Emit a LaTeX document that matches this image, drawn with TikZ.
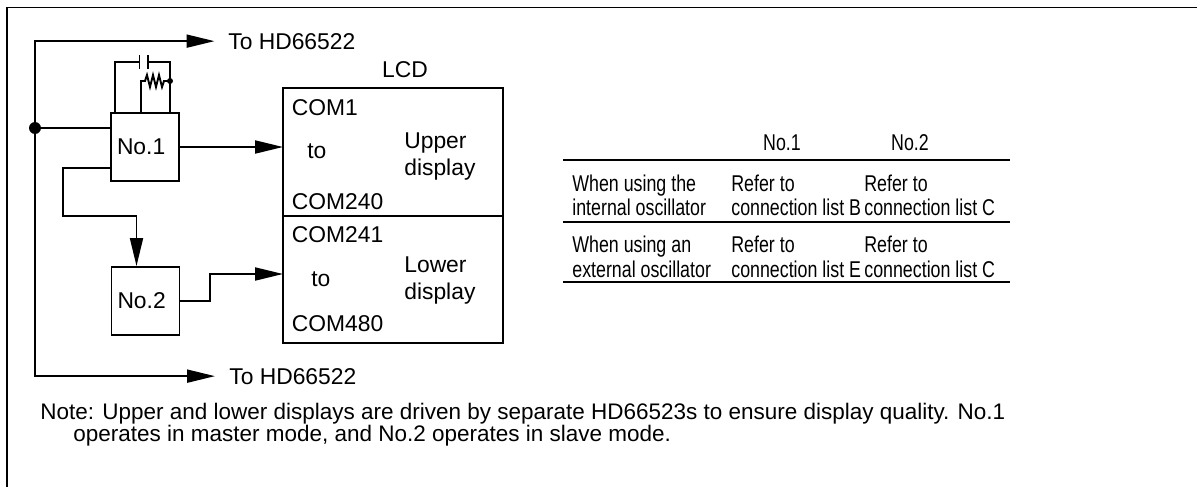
\documentclass[tikz,border=0pt]{standalone}
\usepackage{fontspec}
\setmainfont{Liberation Sans}
\newfontfamily\tabfont[FakeStretch=0.78]{Liberation Sans}
\usetikzlibrary{arrows.meta,positioning}

\tikzset{
  wire/.style={line width=1.1pt},
  sig/.style={wire,-{Triangle[length=0.56cm,width=0.26cm]}},
  chip/.style={draw,wire,minimum width=1.36cm,minimum height=1.36cm,inner sep=0pt,text width=1.12cm,align=left},
  lcdhalf/.style={draw,wire,minimum width=4.4cm,minimum height=2.56cm,inner sep=0pt,outer sep=0pt},
  lbl/.style={anchor=base west,inner sep=0pt},
  tab/.style={anchor=base west,inner sep=0pt,font=\fontsize{13pt}{15pt}\tabfont},
}

\begin{document}
\begin{tikzpicture}[x=0.02cm,y=-0.02cm,font=\fontsize{13pt}{15pt}\selectfont]
 \useasboundingbox (0,0) rectangle (1197,487);
 % frame
 \draw[wire] (7,487) -- (7,7.5) -- (1197,7.5);

 % drivers and LCD
 \node[chip] (no1) at (145,147) {No.1};
 \node[chip] (no2) at (145.5,301) {No.2};
 \node[lcdhalf] (upper) at (393,152) {};
 \node[lcdhalf,minimum height=2.54cm,below=0cm of upper] (lower) {};
 \node[anchor=base,inner sep=0pt] (lcdname) at (405,77) {LCD};
 \node[lbl] (com1) at (291.5,115.5) {COM1};
 \node[lbl] (to1) at (307,158) {to};
 \node[lbl] (com240) at (291.5,209) {COM240};
 \node[lbl] (up1) at (404,148) {Upper};
 \node[lbl] (up2) at (404,175) {display};
 \node[lbl] (com241) at (291.5,242.5) {COM241};
 \node[lbl] (to2) at (311,286) {to};
 \node[lbl] (com480) at (291.5,331) {COM480};
 \node[lbl] (lo1) at (404,272) {Lower};
 \node[lbl] (lo2) at (404,299) {display};

 % bus to HD66522
 \coordinate (jn) at (35,128);
 \node[lbl] (hdtop) at (228,49) {To HD66522};
 \node[lbl] (hdbot) at (229,384) {To HD66522};
 \draw[sig] (jn) |- ([xshift=-0.27cm]hdtop.west);
 \draw[sig] (jn) |- ([xshift=-0.28cm]hdbot.west);
 \draw[wire] (jn) -- (jn -| no1.west);
 \fill (jn) circle (0.12cm);

 % capacitor and resistor on No.1
 \draw[wire] (115,113) |- (139.5,62);
 \draw[wire] (148,62) -| (170,113);
 \draw[wire] (139.5,55) -- (139.5,69);
 \draw[wire] (148,55) -- (148,69);
 \draw[wire] (141,113) |- (145,81) -- (147,75) -- (150,87) -- (153,75) -- (156,87)
   -- (159,75) -- (162,87) -- (164,81) -- (170,81);
 \fill (170,81) circle (0.06cm);

 % signal paths
 \draw[sig] (no1.east) -- (no1.east -| upper.west);
 \draw[sig] ([yshift=-0.42cm]no1.west) -| (63,216) -| ([xshift=-0.18cm]no2.north);
 \draw[sig] (no2.east) -| (210,274) -- (lower.west |- 0,274);

 % table
 \draw[line width=1.6pt] (563,160) -- (1010,160);
 \draw[line width=0.8pt] (563,222) -- (1010,222);
 \draw[line width=1.6pt] (563,282) -- (1010,282);
 \node[tab,anchor=base] (h1) at (782,150) {No.1};
 \node[tab,anchor=base] (h2) at (910,150) {No.2};
 \node[tab] (a1) at (572,191) {When using the};
 \node[tab] (a2) at (572,215.5) {internal oscillator};
 \node[tab] (b1) at (731,191) {Refer to};
 \node[tab] (b2) at (731,215.5) {connection list B};
 \node[tab] (c1) at (864,191) {Refer to};
 \node[tab] (c2) at (864,215.5) {connection list C};
 \node[tab] (a3) at (572,252) {When using an};
 \node[tab] (a4) at (572,277) {external oscillator};
 \node[tab] (b3) at (731,252) {Refer to};
 \node[tab] (b4) at (731,277) {connection list E};
 \node[tab] (c3) at (864,252) {Refer to};
 \node[tab] (c4) at (864,277) {connection list C};

 % note
 \node[lbl,font=\fontsize{12.8pt}{15pt}\selectfont] (note1) at (40,419) {Note: Upper and lower displays are driven by separate HD66523s to ensure display quality. No.1};
 \node[lbl,font=\fontsize{12.8pt}{15pt}\selectfont] (note2) at (73,441) {operates in master mode, and No.2 operates in slave mode.};
\end{tikzpicture}
\end{document}
